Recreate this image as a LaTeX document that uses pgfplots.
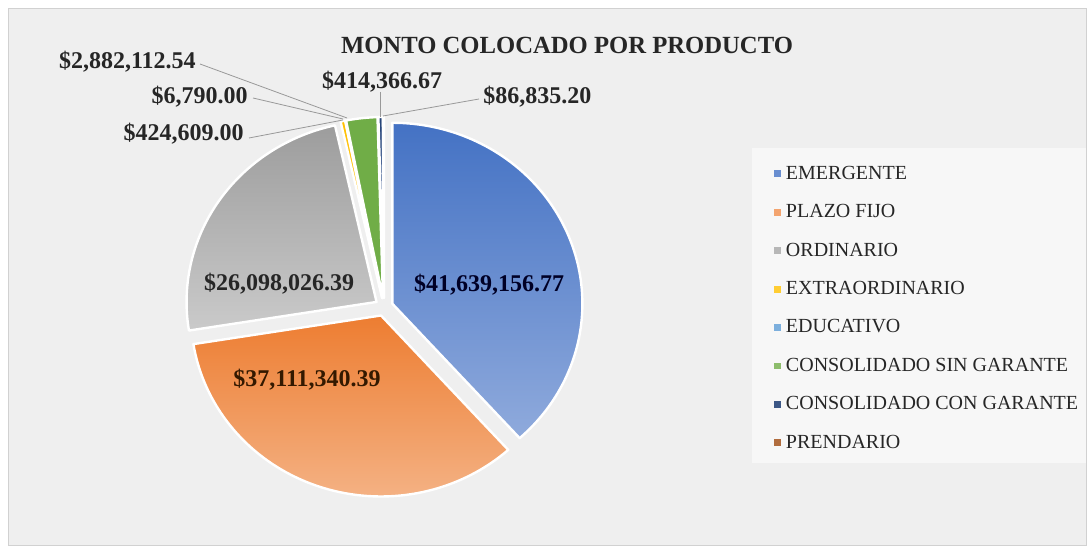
\documentclass[border=0pt]{standalone}
\usepackage{pgfplots}
\pgfplotsset{compat=1.18}
\usepackage{fontspec}
\setmainfont{Liberation Serif}
\definecolor{cEm}{HTML}{4472C4}\definecolor{cEmL}{HTML}{8FAADC}
\definecolor{cPl}{HTML}{ED7D31}\definecolor{cPlL}{HTML}{F4B183}
\definecolor{cOr}{HTML}{A5A5A5}\definecolor{cOrL}{HTML}{CACACA}
\definecolor{cEx}{HTML}{FFC000}\definecolor{cExL}{HTML}{FFD966}
\definecolor{cEd}{HTML}{5B9BD5}\definecolor{cEdL}{HTML}{9DC3E6}
\definecolor{cCs}{HTML}{70AD47}\definecolor{cCsL}{HTML}{A9D18E}
\definecolor{cCc}{HTML}{264478}\definecolor{cCcL}{HTML}{5E7DB8}
\definecolor{cPr}{HTML}{9E480E}\definecolor{cPrL}{HTML}{D0804A}
\definecolor{chartbg}{HTML}{EFEFEF}
\definecolor{legbg}{HTML}{F7F7F7}
\definecolor{txt}{HTML}{262626}
% values (monto colocado)
\def\vA{41639156.77}% EMERGENTE
\def\vB{37111340.39}% PLAZO FIJO
\def\vC{26098026.39}% ORDINARIO
\def\vD{424609.00}%   EXTRAORDINARIO
\def\vE{6790.00}%     EDUCATIVO
\def\vF{2882112.54}%  CONSOLIDADO SIN GARANTE
\def\vG{414366.67}%   CONSOLIDADO CON GARANTE
\def\vH{86835.20}%    PRENDARIO
\edef\tot{\fpeval{\vA+\vB+\vC+\vD+\vE+\vF+\vG+\vH}}
\def\cx{384}\def\cy{242}\def\rx{190}\def\ry{181}\def\ex{9}
\edef\aO{90}
\edef\aA{\fpeval{round(\aO-360*\vA/\tot,5)}}
\edef\aB{\fpeval{round(\aA-360*\vB/\tot,5)}}
\edef\aC{\fpeval{round(\aB-360*\vC/\tot,5)}}
\edef\aD{\fpeval{round(\aC-360*\vD/\tot,5)}}
\edef\aE{\fpeval{round(\aD-360*\vE/\tot,5)}}
\edef\aF{\fpeval{round(\aE-360*\vF/\tot,5)}}
\edef\aG{\fpeval{round(\aF-360*\vG/\tot,5)}}
\edef\aH{\fpeval{round(\aG-360*\vH/\tot,5)}}
% \mkslice{id}{lower}{upper}
\newcommand\mkslice[3]{%
  \expandafter\edef\csname px#1\endcsname{\fpeval{round(\cx+\ex*cosd((#2+#3)/2),4)}}%
  \expandafter\edef\csname py#1\endcsname{\fpeval{round(\cy+\ex*sind((#2+#3)/2),4)}}}
\mkslice{A}{\aA}{\aO}\mkslice{B}{\aB}{\aA}\mkslice{C}{\aC}{\aB}\mkslice{D}{\aD}{\aC}
\mkslice{E}{\aE}{\aD}\mkslice{F}{\aF}{\aE}\mkslice{G}{\aG}{\aF}\mkslice{H}{\aH}{\aG}
% \drawslice{lower}{upper}{px}{py}{top}{bottom}
\newcommand\drawslice[6]{%
  \addplot[draw=white, line width=1.8pt, line join=round, top color=#5, bottom color=#6,
    domain=#1:#2, samples=90, variable=\t, forget plot]
    ({#3+\rx*cos(\t)},{#4+\ry*sin(\t)}) -- (#3,#4) -- cycle;}
\newcommand\legsq[1]{\addlegendimage{legend image code/.code={\fill[#1] (0pt,-2.2pt) rectangle (4.4pt,2.2pt);}}}
\begin{document}
\begin{tikzpicture}
\begin{axis}[scale only axis, width=818.25pt, height=411.75pt,
  xmin=0, xmax=1091, ymin=0, ymax=549, hide axis, clip=false,
  legend style={at={(0.7055,0.7080)}, anchor=north west, draw=none, fill=none,
    font=\fontsize{15}{16}\selectfont, text=txt, row sep=13.4pt,
    cells={anchor=west}},
  legend cell align=left]
\fill[white] (0,0) rectangle (1091,549);
\fill[chartbg, draw=black!18, line width=0.6pt] (8,4) rectangle (1086,541);
\fill[legbg] (752,86) rectangle (1086,401);
\drawslice{\aA}{\aO}{\pxA}{\pyA}{cEm}{cEmL}
\drawslice{\aB}{\aA}{\pxB}{\pyB}{cPl}{cPlL}
\drawslice{\aC}{\aB}{\pxC}{\pyC}{cOr!95!black}{cOrL}
\drawslice{\aD}{\aC}{\pxD}{\pyD}{cEx}{cExL}
\drawslice{\aE}{\aD}{\pxE}{\pyE}{cEd}{cEdL}
\drawslice{\aF}{\aE}{\pxF}{\pyF}{cCs}{cCs}
\drawslice{\aG}{\aF}{\pxG}{\pyG}{cCc}{cCcL}
\drawslice{\aH}{\aG}{\pxH}{\pyH}{cPr}{cPrL}
% leader lines
\addplot[black!40, line width=0.6pt, forget plot] coordinates {(200,485) (347,431)};
\addplot[black!40, line width=0.6pt, forget plot] coordinates {(253,451) (343,430)};
\addplot[black!40, line width=0.6pt, forget plot] coordinates {(249,411) (343,429)};
\addplot[black!40, line width=0.6pt, forget plot] coordinates {(380,457) (380,432)};
\addplot[black!40, line width=0.6pt, forget plot] coordinates {(479,450) (383,433)};
% legend
\legsq{cEm!80!white}\addlegendentry{\hspace{2.2pt}EMERGENTE}
\legsq{cPl!70!white}\addlegendentry{\hspace{2.2pt}PLAZO FIJO}
\legsq{cOr!80!white}\addlegendentry{\hspace{2.2pt}ORDINARIO}
\legsq{cEx!80!white}\addlegendentry{\hspace{2.2pt}EXTRAORDINARIO}
\legsq{cEd!80!white}\addlegendentry{\hspace{2.2pt}EDUCATIVO}
\legsq{cCs!80!white}\addlegendentry{\hspace{2.2pt}CONSOLIDADO SIN GARANTE}
\legsq{cCc!90!white}\addlegendentry{\hspace{2.2pt}CONSOLIDADO CON GARANTE}
\legsq{cPr!80!white}\addlegendentry{\hspace{2.2pt}PRENDARIO}
% title and labels
\node[font=\bfseries\fontsize{18.5}{20}\selectfont, text=txt] at (567,504) {MONTO COLOCADO POR PRODUCTO};
\begin{scope}[every node/.style={font=\bfseries\fontsize{18}{20}\selectfont, text=txt, inner sep=0pt}]
\node[anchor=east] at (196,487) {\$2,882,112.54};
\node[anchor=east] at (248,452) {\$6,790.00};
\node[anchor=east] at (244,415) {\$424,609.00};
\node at (382,467) {\$414,366.67};
\node[anchor=west] at (483,452) {\$86,835.20};
\node[text=black!85!blue] at (489,264) {\$41,639,156.77};
\node at (279,265) {\$26,098,026.39};
\node[text=black!80!orange] at (307,169) {\$37,111,340.39};
\end{scope}
\end{axis}
\end{tikzpicture}
\end{document}
